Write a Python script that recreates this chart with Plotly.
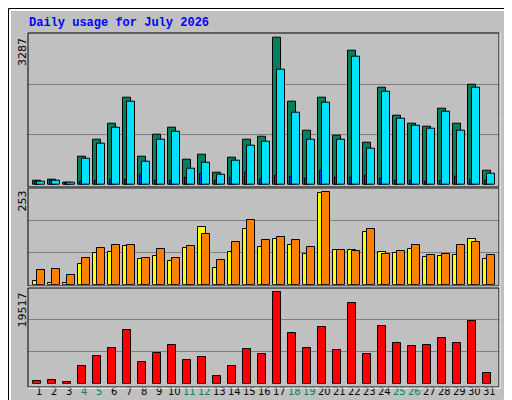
import plotly.graph_objects as go

days = list(range(1, 32))
hits = [97,119,59,632,1011,1368,1948,632,1123,1279,565,677,275,610,1011,1078,3287,1859,1212,1948,1101,2997,944,2171,1547,1368,1301,1703,1368,2238,320]
files = [74,97,45,587,922,1279,1859,521,1011,1190,364,498,230,543,877,967,2573,1614,1011,1837,1011,2863,811,2082,1480,1324,1257,1636,1212,2171,253]
pages = [74,97,59,74,97,119,119,230,97,97,164,253,97,164,275,119,208,186,141,320,164,164,208,141,97,97,74,97,186,119,97]
visits = [9,4,6,56,86,89,105,69,78,64,100,157,45,89,152,102,124,108,83,250,94,94,143,89,86,97,75,78,80,124,69]
sites = [39,42,26,72,100,108,108,72,97,72,105,138,67,116,176,121,130,121,102,253,94,91,152,83,91,108,80,83,108,116,80]
kbf = [570,784,356,3704,5841,7550,11397,4559,6482,8191,4986,5627,1567,3704,7337,6268,19517,10756,7550,12038,7123,17167,6268,12252,8619,7978,8191,9687,8619,13320,2208]
weekend = {4,5,11,12,18,19,25,26}

W, H = 512, 400
def py(y): return 1 - y / H
def px(x): return x / W

fig = go.Figure()
BW = 0.49
def bar(x, y, color, width, yaxis):
    fig.add_trace(go.Bar(x=x, y=y, width=width, marker=dict(color=color, line=dict(color="black", width=1)),
                         yaxis=yaxis, xaxis="x", showlegend=False, hoverinfo="skip"))

bar(days, hits, "#00805C", BW, "y")
bar([d + 0.267 for d in days], files, "#00E0FF", BW, "y")
bar([d - 0.07 for d in days], pages, "#0040FF", 0.13, "y")
bar(days, visits, "#FFFF00", BW, "y2")
bar([d + 0.267 for d in days], sites, "#FF8000", BW, "y2")
bar(days, kbf, "#FF0000", BW, "y3")

ticktext = [f"<span style='color:#00805C'>{d}</span>" if d in weekend else str(d) for d in days]
common_y = dict(showticklabels=False, gridcolor="#808080", gridwidth=1, zeroline=False, fixedrange=True)
rt, rm, rb = 3369, 264, 20435
fig.update_layout(
    width=W, height=H, margin=dict(l=0, r=0, t=0, b=0),
    paper_bgcolor="#C0C0C0", plot_bgcolor="#C0C0C0", barmode="overlay", bargap=0,
    xaxis=dict(domain=[px(20), px(491)], range=[0.4, 31.8], tickvals=[d + 0.15 for d in days], ticktext=ticktext,
               tickangle=0, tickfont=dict(family="DejaVu Sans", size=10, color="black"), showgrid=False,
               zeroline=False, ticks="", anchor="y3"),
    yaxis=dict(domain=[py(177), py(25.7)], range=[0, rt], tickvals=[rt/3, 2*rt/3], **common_y),
    yaxis2=dict(domain=[py(276.7), py(180)], range=[0, rm], tickvals=[rm/3, 2*rm/3], **common_y),
    yaxis3=dict(domain=[py(375.7), py(280)], range=[0, rb], tickvals=[rb/3, 2*rb/3], **common_y),
    font=dict(family="DejaVu Sans Mono"),
)

shapes = []
shapes.append(dict(type="rect", xref="paper", yref="paper", x0=px(0.5), x1=px(511.5), y0=py(399.5), y1=py(0.5),
                   line=dict(color="black", width=1)))
shapes.append(dict(type="line", xref="paper", yref="paper", x0=px(2), x1=px(509), y0=py(2), y1=py(2), line=dict(color="white", width=2)))
shapes.append(dict(type="line", xref="paper", yref="paper", x0=px(2), x1=px(2), y0=py(2), y1=py(397), line=dict(color="white", width=2)))
shapes.append(dict(type="line", xref="paper", yref="paper", x0=px(2), x1=px(510), y0=py(397), y1=py(397), line=dict(color="#808080", width=3)))
shapes.append(dict(type="line", xref="paper", yref="paper", x0=px(509), x1=px(509), y0=py(2), y1=py(397), line=dict(color="#808080", width=3)))
for top, bot in [(25, 179), (180, 278), (280, 379)]:
    shapes.append(dict(type="rect", xref="paper", yref="paper", x0=px(20), x1=px(491), y0=py(bot), y1=py(top),
                       line=dict(color="black", width=1)))
    shapes.append(dict(type="line", xref="paper", yref="paper", x0=px(20), x1=px(492), y0=py(bot+1), y1=py(bot+1), line=dict(color="white", width=1)))
    shapes.append(dict(type="line", xref="paper", yref="paper", x0=px(492), x1=px(492), y0=py(top), y1=py(bot+1), line=dict(color="white", width=1)))
fig.update_layout(shapes=shapes)

ann = []
ann.append(dict(text="<b>Daily usage for July 2026</b>", x=px(19), y=py(15), xref="paper", yref="paper",
                xanchor="left", yanchor="middle", showarrow=False, font=dict(family="Liberation Mono", size=12, color="#0000FF")))
for val, top in [("3287", 28), ("253", 181), ("19517", 283)]:
    ann.append(dict(text=val, x=px(14), y=py(top), xref="paper", yref="paper", textangle=-90, xanchor="center",
                    yanchor="top", showarrow=False, font=dict(family="DejaVu Sans", size=11, color="black")))
right = [
    ("<span style='color:#00E0FF'>Pages</span> / <span style='color:#0040FF'>Files</span> / <span style='color:#00805C'>Hits</span>", 28),
    ("<span style='color:#FF8000'>Sites</span> / <span style='color:#FFFF00'>Visits</span>", 181),
    ("<span style='color:#FF0000'>kB F</span> / <span style='color:#0080FF'>kB In</span> / <span style='color:#00C000'>kB Out</span>", 283),
]
for t, top in right:
    ann.append(dict(text=t, x=px(493), y=py(top), xref="paper", yref="paper", textangle=-90, xanchor="left",
                    yanchor="top", showarrow=False, borderpad=0,
                    font=dict(family="DejaVu Sans Mono", size=11, color="black")))
fig.update_layout(annotations=ann)
fig.write_html("out.html")
